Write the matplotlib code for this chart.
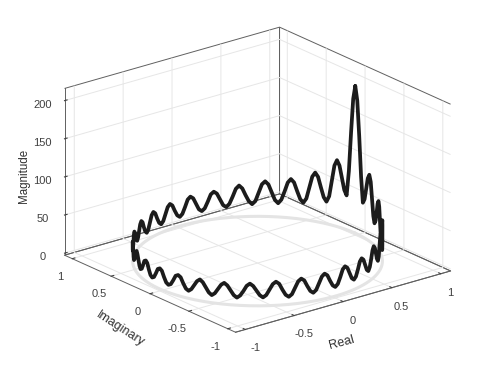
import matplotlib
matplotlib.use('Agg')
import matplotlib.pyplot as plt
from matplotlib.transforms import ScaledTranslation
import numpy as np

plt.rcParams['font.family'] = ['Liberation Sans', 'DejaVu Sans']

# magnitude, 0 to 180 degrees, the lower half mirrors it
mag_half = [193, 175, 130, 78, 45,
            51, 66, 81, 87,
            79, 58, 37, 29,
            34, 46, 59, 64,
            58, 43, 28, 22,
            26, 36, 47, 51,
            46, 34, 23, 18,
            22, 32, 42, 46,
            42, 31, 20, 16,
            20, 28, 37, 41,
            37, 27, 18, 14,
            17, 25, 33, 36,
            33, 24, 16, 13,
            16, 24, 32, 35,
            32, 23, 15, 12,
            15, 22, 30, 33,
            30, 22, 14, 11,
            14, 21, 29, 32,
            29, 21, 13, 10,
            13, 20, 28, 31,
            28, 21, 14, 11,
            14, 20, 26, 29,
            26, 19, 13, 10,
            13, 19, 25, 28,
            25, 19, 13, 10,
            13, 19, 25, 28,
            25, 19, 13, 10,
            12, 18, 25, 27,
            25, 18, 12, 10,
            12, 18, 25, 27]
real_ticks = [-1, -0.5, 0, 0.5, 1]
imag_ticks = [-1, -0.5, 0, 0.5, 1]
mag_ticks = [0, 50, 100, 150, 200]
tick_labels = ['-1', '-0.5', '0', '0.5', '1']
xy_lim = 1.1
z_low, z_high = -2.6, 216

mag = np.array(mag_half + mag_half[-2::-1])
theta = np.radians(np.linspace(0, 360, len(mag)))
re = np.cos(theta)
im = np.sin(theta)

fig = plt.figure(figsize=(4.98, 3.74), dpi=100)
ax = fig.add_axes([0.007, 0.006, 1, 1], projection='3d', proj_type='ortho', computed_zorder=False)
ax.view_init(elev=21, azim=-128.5)
ax.set_box_aspect((1, 1, 0.65), zoom=1.11)

ax.plot(re, im, np.zeros(len(mag)), color='#e4e4e4', lw=2.2, zorder=2)
ax.plot(re, im, mag, color='#1c1c1c', lw=2.7, zorder=3, solid_joinstyle='round', solid_capstyle='round')

ax.set_xlim(-xy_lim, xy_lim)
ax.set_ylim(-xy_lim, xy_lim)
ax.set_zlim(z_low, z_high)
ax.set_xticks(real_ticks, tick_labels)
ax.set_yticks(imag_ticks, tick_labels)
ax.set_zticks(mag_ticks)
ax.tick_params(labelsize=8, colors='#404040', pad=0)
ax.zaxis.set_ticks_position('upper')

# clear pane fill, a white one would cover half of its neighbour's edge
for axis in (ax.xaxis, ax.yaxis, ax.zaxis):
    axis.pane.set_alpha(None)
    axis.pane.set_facecolor((1, 1, 1, 0))
    axis.pane.set_edgecolor('#606060')
    axis.pane.set_linewidth(0.7)
    axis.line.set_color('#606060')
    axis.line.set_linewidth(0.7)
    axis._axinfo['grid']['color'] = '#e6e6e6'
    axis._axinfo['grid']['linewidth'] = 0.7
    axis._axinfo['tick']['inward_factor'] = 0.0
    axis._axinfo['tick']['outward_factor'] = 0.15

# nudge the tick labels, in pixels
for axis, dx, dy in ((ax.xaxis, 6, 6), (ax.yaxis, -2, 6), (ax.zaxis, 2, 7)):
    for tick in axis.get_major_ticks():
        tick.label1.set_transform(ax.transData + ScaledTranslation(dx / 100, dy / 100, fig.dpi_scale_trans))

fig.text(24 / 498, 1 - 176 / 374, 'Magnitude', rotation=90, fontsize=8.3, color='#303030', ha='center', va='center')
fig.text(120 / 498, 1 - 329 / 374, 'Imaginary', rotation=-33, fontsize=9, color='#303030', ha='center', va='center')
fig.text(342 / 498, 1 - 343 / 374, 'Real', rotation=15, fontsize=9, color='#303030', ha='center', va='center')

fig.savefig('out.png', dpi=100)
